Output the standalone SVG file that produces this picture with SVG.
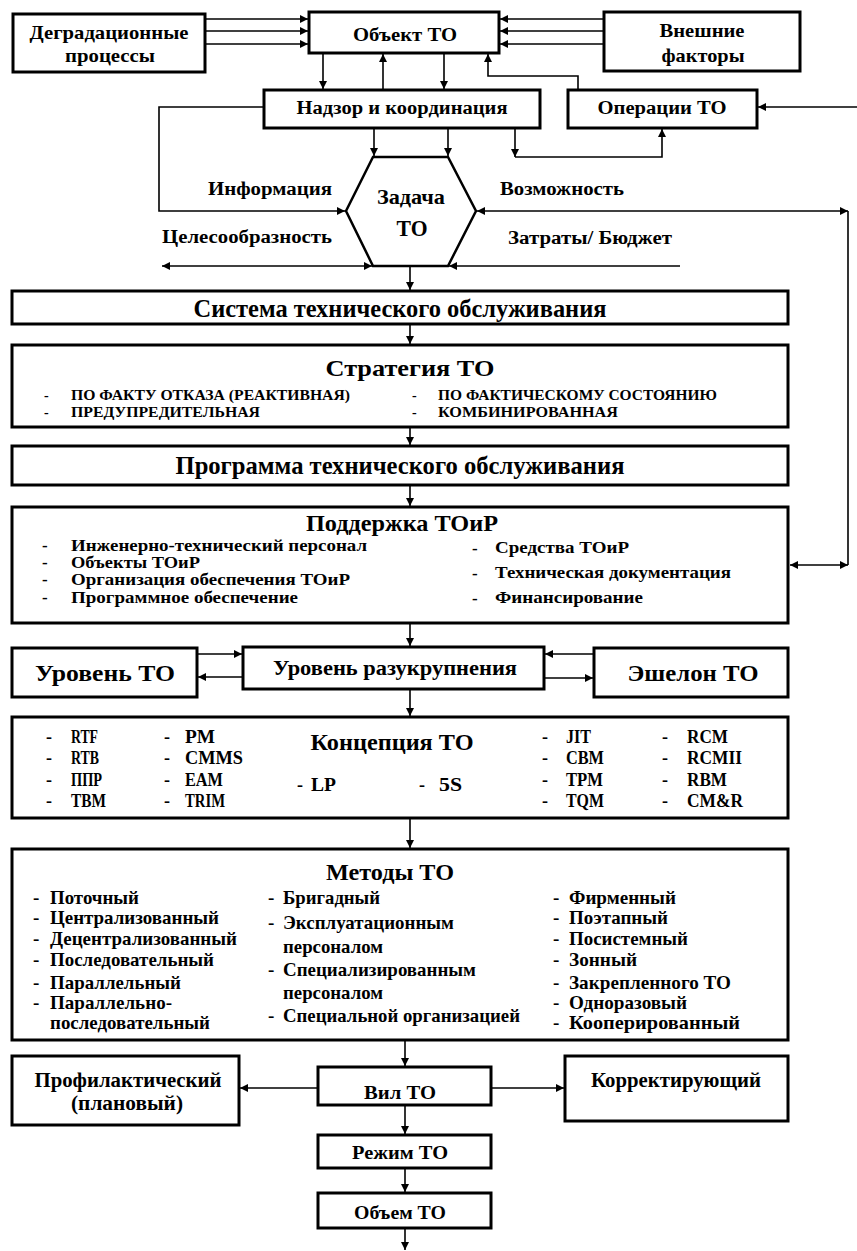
<svg xmlns="http://www.w3.org/2000/svg" width="857" height="1251" viewBox="0 0 857 1251">
<style>
.b{fill:#fff;stroke:#000;stroke-width:3}
.t{font-family:"Liberation Serif","DejaVu Serif",serif;font-weight:bold;fill:#000;dominant-baseline:central}
.m{text-anchor:middle}
.c{fill:none;stroke:#000;stroke-width:1.6}
</style>
<defs>
<marker id="ah" viewBox="0 0 10 10" refX="10" refY="5" markerWidth="9" markerHeight="8" markerUnits="userSpaceOnUse" orient="auto-start-reverse"><path d="M0,0 L10,5 L0,10 z" fill="#000"/></marker>
</defs>
<rect width="857" height="1251" fill="#fff"/>

<g id="connectors">
<line class="c" x1="206" y1="19" x2="308" y2="19" marker-end="url(#ah)"/>
<line class="c" x1="206" y1="31" x2="308" y2="31" marker-end="url(#ah)"/>
<line class="c" x1="206" y1="44" x2="308" y2="44" marker-end="url(#ah)"/>
<line class="c" x1="603" y1="19" x2="500" y2="19" marker-end="url(#ah)"/>
<line class="c" x1="603" y1="31" x2="500" y2="31" marker-end="url(#ah)"/>
<line class="c" x1="603" y1="44" x2="500" y2="44" marker-end="url(#ah)"/>
<line class="c" x1="323" y1="54" x2="323" y2="89" marker-end="url(#ah)"/>
<line class="c" x1="383" y1="89" x2="383" y2="54" marker-end="url(#ah)"/>
<line class="c" x1="444" y1="54" x2="444" y2="89" marker-end="url(#ah)"/>
<polyline class="c" points="578,89 578,76 488,76 488,54" marker-end="url(#ah)"/>
<line class="c" x1="857" y1="107" x2="758" y2="107" marker-end="url(#ah)"/>
<polyline class="c" points="263,107 159,107 159,211 345,211" marker-end="url(#ah)"/>
<line class="c" x1="374" y1="129" x2="374" y2="156" marker-end="url(#ah)"/>
<line class="c" x1="448" y1="129" x2="448" y2="156" marker-end="url(#ah)"/>
<line class="c" x1="515" y1="129" x2="515" y2="157" marker-end="url(#ah)"/>
<polyline class="c" points="515,157 662,157 662,129" marker-end="url(#ah)"/>
<line class="c" x1="477" y1="211" x2="848" y2="211" marker-start="url(#ah)" marker-end="url(#ah)"/>
<line class="c" x1="848" y1="211" x2="848" y2="565"/>
<line class="c" x1="790" y1="565" x2="848" y2="565" marker-start="url(#ah)" marker-end="url(#ah)"/>
<line class="c" x1="162" y1="266" x2="372" y2="266" marker-start="url(#ah)" marker-end="url(#ah)"/>
<line class="c" x1="680" y1="266" x2="449" y2="266" marker-end="url(#ah)"/>
<line class="c" x1="410" y1="267" x2="410" y2="290" marker-end="url(#ah)"/>
<line class="c" x1="410" y1="325" x2="410" y2="344" marker-end="url(#ah)"/>
<line class="c" x1="410" y1="428" x2="410" y2="445" marker-end="url(#ah)"/>
<line class="c" x1="410" y1="486" x2="410" y2="506" marker-end="url(#ah)"/>
<line class="c" x1="410" y1="624" x2="410" y2="646" marker-end="url(#ah)"/>
<line class="c" x1="198" y1="654" x2="242" y2="654" marker-end="url(#ah)"/>
<line class="c" x1="242" y1="677" x2="198" y2="677" marker-end="url(#ah)"/>
<line class="c" x1="593" y1="654" x2="545" y2="654" marker-end="url(#ah)"/>
<line class="c" x1="545" y1="678" x2="593" y2="678" marker-end="url(#ah)"/>
<line class="c" x1="410" y1="690" x2="410" y2="716" marker-end="url(#ah)"/>
<line class="c" x1="410" y1="819" x2="410" y2="848" marker-end="url(#ah)"/>
<line class="c" x1="405" y1="1041" x2="405" y2="1066" marker-end="url(#ah)"/>
<line class="c" x1="317" y1="1088" x2="240" y2="1088" marker-end="url(#ah)"/>
<line class="c" x1="492" y1="1088" x2="564" y2="1088" marker-end="url(#ah)"/>
<line class="c" x1="405" y1="1106" x2="405" y2="1134" marker-end="url(#ah)"/>
<line class="c" x1="405" y1="1169" x2="405" y2="1192" marker-end="url(#ah)"/>
<line class="c" x1="405" y1="1229" x2="405" y2="1250" marker-end="url(#ah)"/>
</g>

<g id="degr">
<rect class="b" x="13" y="14" width="192" height="58"/>
<text class="t m" x="109" y="32" font-size="19" textLength="159" lengthAdjust="spacingAndGlyphs">Деградационные</text>
<text class="t m" x="110" y="55" font-size="19" textLength="90" lengthAdjust="spacingAndGlyphs">процессы</text>
</g>
<g id="obj">
<rect class="b" x="309" y="12" width="190" height="41"/>
<text class="t m" x="405" y="34" font-size="19" textLength="104" lengthAdjust="spacingAndGlyphs">Объект ТО</text>
</g>
<g id="vnesh">
<rect class="b" x="604" y="12" width="196" height="59"/>
<text class="t m" x="702" y="30" font-size="19" textLength="85" lengthAdjust="spacingAndGlyphs">Внешние</text>
<text class="t m" x="703" y="55" font-size="19" textLength="83" lengthAdjust="spacingAndGlyphs">факторы</text>
</g>
<g id="nadzor">
<rect class="b" x="264" y="90" width="276" height="38"/>
<text class="t m" x="402" y="108" font-size="18" textLength="211" lengthAdjust="spacingAndGlyphs">Надзор и координация</text>
</g>
<g id="oper">
<rect class="b" x="568" y="90" width="189" height="38"/>
<text class="t m" x="662" y="108" font-size="18" textLength="129" lengthAdjust="spacingAndGlyphs">Операции ТО</text>
</g>
<g id="labels">
<text class="t" x="208" y="189" font-size="18" textLength="124" lengthAdjust="spacingAndGlyphs">Информация</text>
<text class="t" x="162" y="237" font-size="18" textLength="170" lengthAdjust="spacingAndGlyphs">Целесообразность</text>
<text class="t" x="500" y="189" font-size="18" textLength="124" lengthAdjust="spacingAndGlyphs">Возможность</text>
<text class="t" x="508" y="238" font-size="18" textLength="164" lengthAdjust="spacingAndGlyphs">Затраты/ Бюджет</text>
</g>
<g id="task">
<polygon points="346,211 373,157 448,157 476,211 448,266 373,266" fill="#fff" stroke="#000" stroke-width="2.5"/>
<text class="t m" x="411" y="197" font-size="21" textLength="68" lengthAdjust="spacingAndGlyphs">Задача</text>
<text class="t m" x="412" y="228" font-size="24" textLength="31" lengthAdjust="spacingAndGlyphs">ТО</text>
</g>
<g id="system">
<rect class="b" x="12" y="291" width="776" height="33"/>
<text class="t m" x="400" y="308" font-size="25" textLength="413" lengthAdjust="spacingAndGlyphs">Система технического обслуживания</text>
</g>
<g id="strategy">
<rect class="b" x="12" y="345" width="776" height="82"/>
<text class="t m" x="410" y="368" font-size="24" textLength="169" lengthAdjust="spacingAndGlyphs">Стратегия ТО</text>
<text class="t" x="44" y="395" font-size="14">-</text>
<text class="t" x="71" y="395" font-size="14" textLength="279" lengthAdjust="spacingAndGlyphs">ПО ФАКТУ ОТКАЗА (РЕАКТИВНАЯ)</text>
<text class="t" x="44" y="412" font-size="14">-</text>
<text class="t" x="71" y="412" font-size="14" textLength="189" lengthAdjust="spacingAndGlyphs">ПРЕДУПРЕДИТЕЛЬНАЯ</text>
<text class="t" x="412" y="395" font-size="14">-</text>
<text class="t" x="438" y="395" font-size="14" textLength="279" lengthAdjust="spacingAndGlyphs">ПО ФАКТИЧЕСКОМУ СОСТОЯНИЮ</text>
<text class="t" x="412" y="412" font-size="14">-</text>
<text class="t" x="438" y="412" font-size="14" textLength="180" lengthAdjust="spacingAndGlyphs">КОМБИНИРОВАННАЯ</text>
</g>
<g id="program">
<rect class="b" x="12" y="446" width="776" height="39"/>
<text class="t m" x="400" y="465" font-size="25" textLength="449" lengthAdjust="spacingAndGlyphs">Программа технического обслуживания</text>
</g>
<g id="support">
<rect class="b" x="12" y="507" width="776" height="116"/>
<text class="t m" x="402" y="523" font-size="23" textLength="192" lengthAdjust="spacingAndGlyphs">Поддержка ТОиР</text>
<g font-size="17">
<text class="t" x="42" y="545">-</text>
<text class="t" x="71" y="545" textLength="296" lengthAdjust="spacingAndGlyphs">Инженерно-технический персонал</text>
<text class="t" x="42" y="562">-</text>
<text class="t" x="71" y="562" textLength="129" lengthAdjust="spacingAndGlyphs">Объекты ТОиР</text>
<text class="t" x="42" y="579">-</text>
<text class="t" x="71" y="579" textLength="279" lengthAdjust="spacingAndGlyphs">Организация обеспечения ТОиР</text>
<text class="t" x="42" y="597">-</text>
<text class="t" x="71" y="597" textLength="227" lengthAdjust="spacingAndGlyphs">Программное обеспечение</text>
<text class="t" x="472" y="548">-</text>
<text class="t" x="495" y="547" textLength="134" lengthAdjust="spacingAndGlyphs">Средства ТОиР</text>
<text class="t" x="472" y="573">-</text>
<text class="t" x="495" y="572" textLength="236" lengthAdjust="spacingAndGlyphs">Техническая документация</text>
<text class="t" x="472" y="598">-</text>
<text class="t" x="495" y="597" textLength="148" lengthAdjust="spacingAndGlyphs">Финансирование</text>
</g>
</g>
<g id="level">
<rect class="b" x="12" y="648" width="185" height="49"/>
<text class="t m" x="105" y="673" font-size="24" textLength="140" lengthAdjust="spacingAndGlyphs">Уровень ТО</text>
</g>
<g id="razukr">
<rect class="b" x="243" y="647" width="301" height="42"/>
<text class="t m" x="395" y="667" font-size="22" textLength="244" lengthAdjust="spacingAndGlyphs">Уровень разукрупнения</text>
</g>
<g id="eshelon">
<rect class="b" x="594" y="648" width="194" height="49"/>
<text class="t m" x="693" y="673" font-size="24" textLength="131" lengthAdjust="spacingAndGlyphs">Эшелон ТО</text>
</g>
<g id="concept">
<rect class="b" x="12" y="717" width="776" height="101"/>
<text class="t m" x="392" y="742" font-size="24" textLength="163" lengthAdjust="spacingAndGlyphs">Концепция ТО</text>
<g font-size="18">
<text class="t" x="46" y="737">-</text><text class="t" x="71" y="737" textLength="27" lengthAdjust="spacingAndGlyphs">RTF</text>
<text class="t" x="46" y="758">-</text><text class="t" x="71" y="758" textLength="28" lengthAdjust="spacingAndGlyphs">RTB</text>
<text class="t" x="46" y="780">-</text><text class="t" x="71" y="780" textLength="31" lengthAdjust="spacingAndGlyphs">ППР</text>
<text class="t" x="46" y="801">-</text><text class="t" x="71" y="801" textLength="35" lengthAdjust="spacingAndGlyphs">TBM</text>
<text class="t" x="164" y="737">-</text><text class="t" x="185" y="737" textLength="30" lengthAdjust="spacingAndGlyphs">PM</text>
<text class="t" x="164" y="758">-</text><text class="t" x="185" y="758" textLength="58" lengthAdjust="spacingAndGlyphs">CMMS</text>
<text class="t" x="164" y="780">-</text><text class="t" x="185" y="780" textLength="38" lengthAdjust="spacingAndGlyphs">EAM</text>
<text class="t" x="164" y="801">-</text><text class="t" x="185" y="801" textLength="40" lengthAdjust="spacingAndGlyphs">TRIM</text>
<text class="t" x="297" y="785">-</text><text class="t" x="311" y="785" textLength="25" lengthAdjust="spacingAndGlyphs">LP</text>
<text class="t" x="419" y="785">-</text><text class="t" x="439" y="785" textLength="23" lengthAdjust="spacingAndGlyphs">5S</text>
<text class="t" x="542" y="737">-</text><text class="t" x="566" y="737" textLength="25" lengthAdjust="spacingAndGlyphs">JIT</text>
<text class="t" x="542" y="758">-</text><text class="t" x="566" y="758" textLength="38" lengthAdjust="spacingAndGlyphs">CBM</text>
<text class="t" x="542" y="780">-</text><text class="t" x="566" y="780" textLength="37" lengthAdjust="spacingAndGlyphs">TPM</text>
<text class="t" x="542" y="801">-</text><text class="t" x="566" y="801" textLength="38" lengthAdjust="spacingAndGlyphs">TQM</text>
<text class="t" x="662" y="737">-</text><text class="t" x="687" y="737" textLength="41" lengthAdjust="spacingAndGlyphs">RCM</text>
<text class="t" x="662" y="758">-</text><text class="t" x="687" y="758" textLength="55" lengthAdjust="spacingAndGlyphs">RCMII</text>
<text class="t" x="662" y="780">-</text><text class="t" x="687" y="780" textLength="40" lengthAdjust="spacingAndGlyphs">RBM</text>
<text class="t" x="662" y="801">-</text><text class="t" x="687" y="801" textLength="56" lengthAdjust="spacingAndGlyphs">CM&amp;R</text>
</g>
</g>
<g id="methods">
<rect class="b" x="12" y="849" width="776" height="191"/>
<text class="t m" x="390" y="872" font-size="24" textLength="128" lengthAdjust="spacingAndGlyphs">Методы ТО</text>
<g font-size="19">
<text class="t" x="33" y="897">-</text><text class="t" x="50" y="897" textLength="89" lengthAdjust="spacingAndGlyphs">Поточный</text>
<text class="t" x="33" y="917">-</text><text class="t" x="50" y="917" textLength="169" lengthAdjust="spacingAndGlyphs">Централизованный</text>
<text class="t" x="33" y="938">-</text><text class="t" x="50" y="938" textLength="187" lengthAdjust="spacingAndGlyphs">Децентрализованный</text>
<text class="t" x="33" y="959">-</text><text class="t" x="50" y="959" textLength="164" lengthAdjust="spacingAndGlyphs">Последовательный</text>
<text class="t" x="33" y="982">-</text><text class="t" x="50" y="982" textLength="131" lengthAdjust="spacingAndGlyphs">Параллельный</text>
<text class="t" x="33" y="1002">-</text><text class="t" x="50" y="1002" textLength="122" lengthAdjust="spacingAndGlyphs">Параллельно-</text>
<text class="t" x="50" y="1022" textLength="160" lengthAdjust="spacingAndGlyphs">последовательный</text>
<text class="t" x="268" y="897">-</text><text class="t" x="283" y="897" textLength="97" lengthAdjust="spacingAndGlyphs">Бригадный</text>
<text class="t" x="268" y="922">-</text><text class="t" x="283" y="922" textLength="171" lengthAdjust="spacingAndGlyphs">Эксплуатационным</text>
<text class="t" x="283" y="946" textLength="100" lengthAdjust="spacingAndGlyphs">персоналом</text>
<text class="t" x="268" y="969">-</text><text class="t" x="283" y="969" textLength="193" lengthAdjust="spacingAndGlyphs">Специализированным</text>
<text class="t" x="283" y="992" textLength="100" lengthAdjust="spacingAndGlyphs">персоналом</text>
<text class="t" x="268" y="1015">-</text><text class="t" x="283" y="1015" textLength="237" lengthAdjust="spacingAndGlyphs">Специальной организацией</text>
<text class="t" x="553" y="897">-</text><text class="t" x="569" y="897" textLength="107" lengthAdjust="spacingAndGlyphs">Фирменный</text>
<text class="t" x="553" y="917">-</text><text class="t" x="569" y="917" textLength="99" lengthAdjust="spacingAndGlyphs">Поэтапный</text>
<text class="t" x="553" y="938">-</text><text class="t" x="569" y="938" textLength="119" lengthAdjust="spacingAndGlyphs">Посистемный</text>
<text class="t" x="553" y="959">-</text><text class="t" x="569" y="959" textLength="68" lengthAdjust="spacingAndGlyphs">Зонный</text>
<text class="t" x="553" y="982">-</text><text class="t" x="569" y="982" textLength="162" lengthAdjust="spacingAndGlyphs">Закрепленного ТО</text>
<text class="t" x="553" y="1002">-</text><text class="t" x="569" y="1002" textLength="118" lengthAdjust="spacingAndGlyphs">Одноразовый</text>
<text class="t" x="553" y="1022">-</text><text class="t" x="569" y="1022" textLength="171" lengthAdjust="spacingAndGlyphs">Кооперированный</text>
</g>
</g>
<g id="prof">
<rect class="b" x="12" y="1056" width="227" height="69"/>
<text class="t m" x="128" y="1080" font-size="20" textLength="187" lengthAdjust="spacingAndGlyphs">Профилактический</text>
<text class="t m" x="127" y="1103" font-size="20" textLength="112" lengthAdjust="spacingAndGlyphs">(плановый)</text>
</g>
<g id="vid">
<rect class="b" x="318" y="1067" width="173" height="38"/>
<text class="t m" x="400" y="1092" font-size="19" textLength="72" lengthAdjust="spacingAndGlyphs">Вил ТО</text>
</g>
<g id="korr">
<rect class="b" x="565" y="1056" width="223" height="65"/>
<text class="t m" x="676" y="1080" font-size="20" textLength="170" lengthAdjust="spacingAndGlyphs">Корректирующий</text>
</g>
<g id="rezhim">
<rect class="b" x="318" y="1135" width="173" height="33"/>
<text class="t m" x="400" y="1152" font-size="19" textLength="96" lengthAdjust="spacingAndGlyphs">Режим ТО</text>
</g>
<g id="obem">
<rect class="b" x="318" y="1193" width="173" height="35"/>
<text class="t m" x="400" y="1212" font-size="19" textLength="92" lengthAdjust="spacingAndGlyphs">Объем ТО</text>
</g>
</svg>
